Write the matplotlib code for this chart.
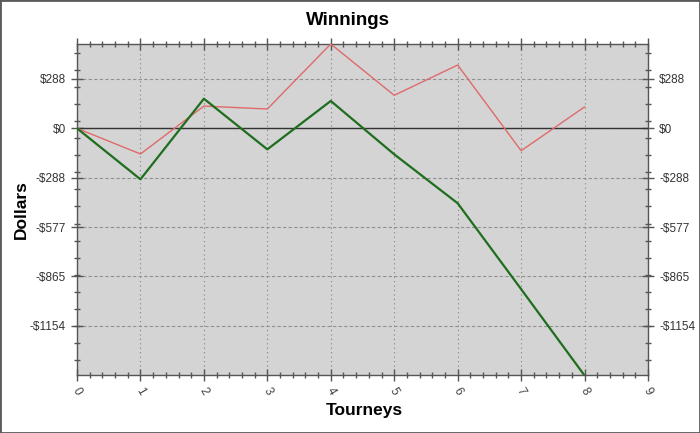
import matplotlib
matplotlib.use("Agg")
import matplotlib.pyplot as plt
from matplotlib.ticker import FixedLocator, FuncFormatter
from matplotlib.patches import Rectangle

plt.rcParams["font.family"] = ["Liberation Sans", "DejaVu Sans"]

# Data
tourneys = [0, 1, 2, 3, 4, 5, 6, 7, 8]
red_series = [0, -150, 130, 113, 493, 193, 370, -131, 125]
green_series = [0, -298, 173, -123, 160, -152, -438, -940, -1445]
y_major = [-1154, -865.5, -577, -288.5, 0, 288.5]
x_ticks = [0, 1, 2, 3, 4, 5, 6, 7, 8, 9]

fig = plt.figure(figsize=(7.0, 4.33), dpi=100)
fig.patch.set_facecolor("white")
ax = fig.add_axes([0.11, 0.1328, 0.8157, 0.7656])
ax.set_facecolor("#d4d4d4")

ax.plot(tourneys, red_series, color="#e06a6a", lw=1.0, zorder=4)
ax.plot(tourneys, green_series, color="#1e6e1e", lw=1.6, zorder=5)
ax.axhline(0, color="#333333", lw=1.0, zorder=3)

ax.set_xlim(0, 9)
ax.set_ylim(min(green_series), max(red_series))

ax.yaxis.set_major_locator(FixedLocator(y_major))
ax.yaxis.set_minor_locator(FixedLocator([43 + 100 * k for k in range(-14, 5)]))
ax.xaxis.set_major_locator(FixedLocator(x_ticks))
ax.xaxis.set_minor_locator(FixedLocator([i * 0.2 for i in range(46) if i % 5]))

def dollar(v, pos):
    n = int(v)
    if n < 0:
        return "-$%d" % (-n)
    return "$%d" % n

ax.yaxis.set_major_formatter(FuncFormatter(dollar))

for s in ax.spines.values():
    s.set_color("#555555")
    s.set_linewidth(1.0)

ax.tick_params(axis="both", which="major", direction="inout", length=8, width=1,
               color="#555555", labelsize=8.5, labelcolor="#333333")
ax.tick_params(axis="both", which="minor", direction="inout", length=4.5, width=1,
               color="#555555")
ax.tick_params(axis="y", which="both", left=True, right=True, labelleft=True, labelright=True, pad=4)
ax.tick_params(axis="x", which="both", bottom=True, top=True, labelbottom=True, labeltop=False, pad=3)
for lab in ax.get_xticklabels():
    lab.set_rotation(-60)
    lab.set_ha("center")
    lab.set_va("top")
    lab.set_color("#444444")

ax.grid(True, axis="x", which="major", color="#808080", linestyle=(0, (1, 3)), lw=0.8, zorder=1)
ax.grid(True, axis="y", which="major", color="#909090", linestyle=(0, (3, 2)), lw=0.8, zorder=1)
ax.set_axisbelow(True)

fig.text(0.497, 0.953, "Winnings", ha="center", va="center", fontsize=13.5, fontweight="bold")
fig.text(0.03, 0.516, "Dollars", ha="center", va="center", rotation=90, fontsize=12.5, fontweight="bold")
fig.text(0.52, 0.052, "Tourneys", ha="center", va="center", fontsize=12.5, fontweight="bold")

fig.patches.append(Rectangle((0, 0), 1, 1, transform=fig.transFigure, fill=False,
                             edgecolor="#5a5a5a", lw=2.0))

fig.savefig("out.png", dpi=100)
